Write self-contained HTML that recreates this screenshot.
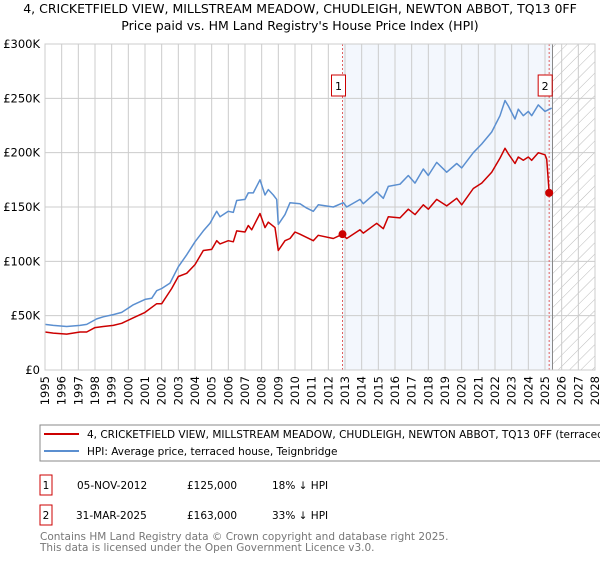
<!DOCTYPE html>
<html><head><meta charset="utf-8">
<style>
body{margin:0;background:#fff;width:600px;height:560px;overflow:hidden;font-family:"DejaVu Sans","Liberation Sans",sans-serif;}
svg text{font-family:"DejaVu Sans","Liberation Sans",sans-serif;}
</style></head><body>
<svg id="chart" width="600" height="560" xmlns="http://www.w3.org/2000/svg">
<defs>
<pattern id="hatch" width="8" height="8" patternUnits="userSpaceOnUse" patternTransform="rotate(45)">
<line x1="0" y1="0" x2="0" y2="8" stroke="#bbb" stroke-width="1"/>
</pattern>
</defs>
<text x="300" y="13" font-size="12.5" text-anchor="middle" fill="#000">4, CRICKETFIELD VIEW, MILLSTREAM MEADOW, CHUDLEIGH, NEWTON ABBOT, TQ13 0FF</text>
<text x="300" y="30" font-size="12.5" text-anchor="middle" fill="#000">Price paid vs. HM Land Registry's House Price Index (HPI)</text>
<g id="plot"></g>
<rect x="40" y="425" width="570" height="36" fill="#fff" stroke="#888"/>
<line x1="44" y1="434" x2="79" y2="434" stroke="#cc0000" stroke-width="2"/>
<text x="87" y="438" font-size="10.5">4, CRICKETFIELD VIEW, MILLSTREAM MEADOW, CHUDLEIGH, NEWTON ABBOT, TQ13 0FF (terraced house)</text>
<line x1="44" y1="451" x2="79" y2="451" stroke="#5b8fd0" stroke-width="2"/>
<text x="87" y="455" font-size="10.5">HPI: Average price, terraced house, Teignbridge</text>
<g>
<rect x="40" y="475" width="12" height="20" fill="#fff" stroke="#cc0000"/>
<text x="46" y="489" font-size="10.5" text-anchor="middle">1</text>
<text x="77" y="489" font-size="10.5">05-NOV-2012</text>
<text x="187" y="489" font-size="10.5">£125,000</text>
<text x="272" y="489" font-size="10.5">18% ↓ HPI</text>
</g>
<g>
<rect x="40" y="505" width="12" height="20" fill="#fff" stroke="#cc0000"/>
<text x="46" y="519" font-size="10.5" text-anchor="middle">2</text>
<text x="76" y="519" font-size="10.5">31-MAR-2025</text>
<text x="187" y="519" font-size="10.5">£163,000</text>
<text x="272" y="519" font-size="10.5">33% ↓ HPI</text>
</g>
<text x="40" y="540" font-size="10.5" fill="#777">Contains HM Land Registry data © Crown copyright and database right 2025.</text>
<text x="40" y="551" font-size="10.5" fill="#777">This data is licensed under the Open Government Licence v3.0.</text>
</svg>
<script>
const years=[1995,1996,1997,1998,1999,2000,2001,2002,2003,2004,2005,2006,2007,2008,2009,2010,2011,2012,2013,2014,2015,2016,2017,2018,2019,2020,2021,2022,2023,2024,2025,2026,2027,2028];
const yTicks=[0,50,100,150,200,250,300];
const yTickLabels=["£0","£50K","£100K","£150K","£200K","£250K","£300K"];
const hpiT=[1995,1995.5,1996.3,1997.1,1997.5,1998.1,1998.5,1999.1,1999.6,2000.3,2001,2001.4,2001.7,2002,2002.5,2003,2003.5,2004,2004.5,2004.9,2005.3,2005.5,2006,2006.3,2006.5,2007,2007.2,2007.5,2007.9,2008.2,2008.4,2008.7,2008.9,2009.0,2009.4,2009.7,2010.3,2010.7,2011.1,2011.4,2012.3,2012.9,2013.1,2013.9,2014.1,2014.9,2015.3,2015.6,2016.3,2016.8,2017.2,2017.7,2018,2018.5,2019.1,2019.7,2020,2020.7,2021.2,2021.8,2022.3,2022.6,2022.8,2023.2,2023.4,2023.7,2024.0,2024.2,2024.6,2025.0,2025.4];
const hpiV=[42,41,40,41,42,47,49,51,53,60,65,66,73,75,80,95,106,118,128,135,146,141,146,145,156,157,163,163,175,161,166,161,157,134,143,154,153,149,146,152,150,154,150,157,153,164,158,169,171,179,172,185,179,191,182,190,186,200,208,219,234,248,243,231,240,234,238,234,244,238,241];
const priceT=[1995,1995.5,1996.3,1997.1,1997.5,1998,1998.5,1999.1,1999.6,2000.3,2001,2001.7,2002,2002.6,2003,2003.5,2004,2004.5,2005,2005.3,2005.5,2006,2006.3,2006.5,2007,2007.2,2007.4,2007.9,2008.2,2008.4,2008.8,2009.0,2009.4,2009.7,2010,2010.3,2011.1,2011.4,2012.3,2012.85,2013.1,2013.9,2014.1,2014.9,2015.3,2015.6,2016.3,2016.8,2017.2,2017.7,2018,2018.5,2019.1,2019.7,2020,2020.7,2021.2,2021.8,2022.3,2022.6,2022.8,2023.2,2023.4,2023.7,2024.0,2024.2,2024.6,2025.0,2025.1,2025.25];
const priceV=[35,34,33,35,35,39,40,41,43,48,53,61,61,75,86,89,97,110,111,119,116,119,118,128,127,133,129,144,131,136,131,110,119,121,127,125,119,124,121,125,121,129,126,135,130,141,140,148,143,152,148,157,151,158,152,167,172,182,195,204,199,190,196,193,196,193,200,198,194,163];
const sales=[{t:2012.85,v:125,label:"1"},{t:2025.25,v:163,label:"2"}];
const NS="http://www.w3.org/2000/svg";
const X0=45,X1=595,Y0=370,Y1=44;
function xs(t){return X0+(t-1995)/(2028-1995)*(X1-X0);}
function ys(v){return Y0-v/300*(Y0-Y1);}
const g=document.getElementById('plot');
function mk(tag,attrs){const e=document.createElementNS(NS,tag);for(const k in attrs)e.setAttribute(k,attrs[k]);g.appendChild(e);return e;}
let e;
e=mk('rect',{x:xs(2012.85),y:Y1,width:xs(2025.45)-xs(2012.85),height:Y0-Y1,fill:'#eef3fc',opacity:0.7});


e=mk('rect',{x:xs(2025.45),y:Y1,width:X1-xs(2025.45),height:Y0-Y1,fill:'url(#hatch)'});


years.forEach(y=>{
  e=mk('line',{x1:xs(y),x2:xs(y),y1:Y1,y2:Y0,stroke:'#ccc','stroke-width':1});
  
  
  e=mk('text',{x:0,y:0,'font-size':11.5,'text-anchor':'end',transform:`translate(${xs(y)+4},${Y0+6}) rotate(-90)`});
  e.textContent=y;
  
  
});
yTicks.forEach((v,i)=>{
  e=mk('line',{x1:X0,x2:X1,y1:ys(v),y2:ys(v),stroke:'#ccc','stroke-width':1});
  
  
  e=mk('text',{x:X0-5,y:ys(v)+4,'font-size':11.5,'text-anchor':'end'});
  e.textContent=yTickLabels[i];
  
  
});
e=mk('line',{x1:xs(2025.45),x2:xs(2025.45),y1:Y1,y2:Y0,stroke:'#888','stroke-width':1});


sales.forEach(s=>{
  e=mk('line',{x1:xs(s.t),x2:xs(s.t),y1:Y1,y2:Y0,stroke:'#e06060','stroke-width':1,'stroke-dasharray':'2,2'});
  
  
});
function path(T,V,color,name){
  const d=T.map((t,i)=>(i?'L':'M')+xs(t).toFixed(1)+','+ys(V[i]).toFixed(1)).join('');
  e=mk('path',{d:d,fill:'none',stroke:color,'stroke-width':1.5,'stroke-linejoin':'round'});
  
  
}
path(hpiT,hpiV,'#5b8fd0','hpi-line');
path(priceT,priceV,'#cc0000','price-line');
sales.forEach(s=>{
  e=mk('circle',{cx:xs(s.t),cy:ys(s.v),r:4,fill:'#cc0000'});
  
  
  e=mk('rect',{x:xs(s.t)-11,y:75,width:14,height:21,fill:'#fff',stroke:'#cc0000'});
  
  
  e=mk('text',{x:xs(s.t)-4,y:90,'font-size':11,'text-anchor':'middle'});
  e.textContent=s.label;
  
  
});
e=mk('rect',{x:X0,y:Y1,width:X1-X0,height:Y0-Y1,fill:'none',stroke:'#ccc'});


</script>
</body></html>
